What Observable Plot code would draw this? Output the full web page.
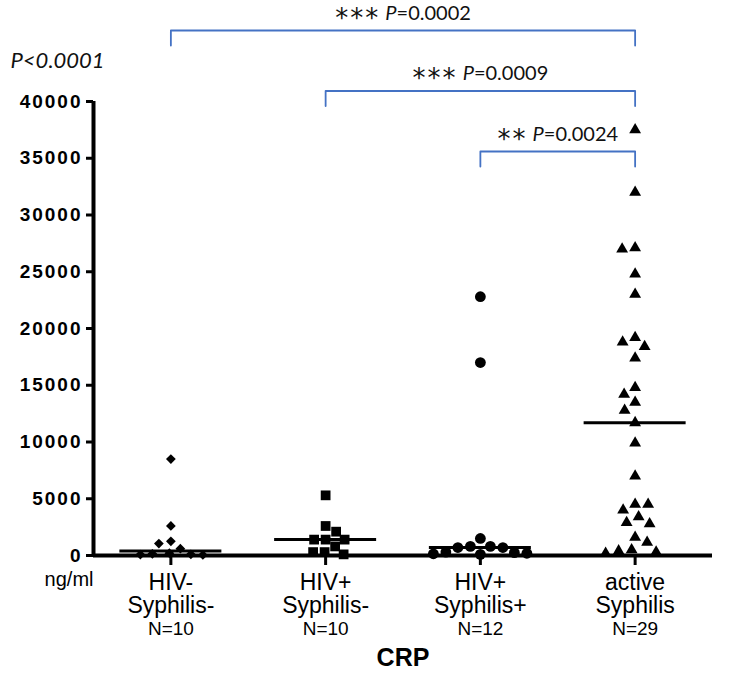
<!DOCTYPE html>
<html><head><meta charset="utf-8">
<script src="https://cdn.jsdelivr.net/npm/d3@7"></script>
<script src="https://cdn.jsdelivr.net/npm/@observablehq/plot@0.6"></script>
<style>
html,body{margin:0;padding:0;background:#fff;overflow:hidden}
g[aria-label="y-axis tick label"] text{letter-spacing:2px}
</style></head><body><div id="chart"></div>
<script>
// ---------- data ----------
const groupLabels = ["HIV-\nSyphilis-", "HIV+\nSyphilis-", "HIV+\nSyphilis+", "active\nSyphilis"];
const hivNegSyphNeg = [8500, 2600, 1250, 1050, 600, 200, 150, 100, 80, 50];
const hivPosSyphNeg = [5300, 2600, 2100, 1400, 1400, 1400, 800, 300, 300, 100];
const hivPosSyphPos = [22800, 17000, 1500, 800, 800, 700, 700, 300, 250, 200, 150, 100];
const activeSyphilis = [37500, 32000, 27100, 27000, 24800, 23000, 19200, 18800, 18400, 17400,
  14800, 14200, 13500, 12800, 11700, 9900, 7000, 4500, 4500, 4000, 3400, 2900, 2800, 1600,
  1150, 500, 400, 300, 200];
const yTicks = [0, 5000, 10000, 15000, 20000, 25000, 30000, 35000, 40000];
const comparisonFrom = [0, 1, 2];
const comparisonTo = [3, 3, 3];
const comparisonStars = ["***", "***", "**"];
const comparisonP = ["0.0002", "0.0009", "0.0024"];
const overallP = "P<0.0001";
const unitLabel = "ng/ml";
const axisTitle = "CRP";

// ---------- layout / style ----------
const W = 735, H = 692, mL = 93, mR = 23, mT = 101, mB = 137;
const plotW = W - mL - mR, plotH = H - mT - mB;
const xDomain = [-0.5, groupLabels.length - 0.5];
const yDomain = [0, d3.max(yTicks)];
const pxPerX = plotW / (xDomain[1] - xDomain[0]);
const pxPerY = plotH / (yDomain[1] - yDomain[0]);
const symbols = ["diamond2", "square", "circle", "triangle"];
const symR = [4.4, 5.5, 5.4, 4.4];
const collideR = [5.2, 5, 5.5, 5.7];
const pad = 1.5;
const medianHalfPx = 51;
const bracketColor = "#4472C4";
const bracketTopPx = 30, bracketStepPx = 60.5, bracketLegPx = 15;
const sans = "'Liberation Sans', Arial, Helvetica, sans-serif";
const calibriLike = "Lato, 'Open Sans', 'Liberation Sans', sans-serif";

const groups = [hivNegSyphNeg, hivPosSyphNeg, hivPosSyphPos, activeSyphilis]
  .map((values, i) => ({i, label: groupLabels[i], values}));

// deterministic beeswarm (pixel space) -> offsets in x units
function swarm(values, r) {
  const placed = [];
  return values.map((v, k) => {
    const y = v * pxPerY;
    let best = 0;
    outer: for (let o = 0; o < 200; o += 0.5) {
      const cands = o === 0 ? [0] : (k % 2 ? [-o, o] : [o, -o]);
      for (const c of cands) {
        if (placed.every(p => Math.hypot(p.x - c, p.y - y) >= 2 * r + pad)) { best = c; break outer; }
      }
    }
    placed.push({x: best, y});
    return best;
  });
}

const points = groups.flatMap(g => {
  const offs = swarm(g.values, collideR[g.i]);
  return g.values.map((v, k) => ({i: g.i, v, x: g.i + offs[k] / pxPerX}));
});

const comparisons = comparisonFrom.map((f, k) => ({
  k, from: f, to: comparisonTo[k], stars: comparisonStars[k], p: comparisonP[k]
}));
const pxToY = px => yDomain[1] + (mT - px) / pxPerY;
const levelPx = c => bracketTopPx + c.k * bracketStepPx;
const bracketPts = comparisons.flatMap(c => {
  const top = pxToY(levelPx(c)), bot = pxToY(levelPx(c) + bracketLegPx);
  return [
    {k: c.k, x: c.from, y: bot}, {k: c.k, x: c.from, y: top},
    {k: c.k, x: c.to, y: top}, {k: c.k, x: c.to, y: bot}
  ];
});

const dotMarks = groups.map(g => Plot.dot(points.filter(d => d.i === g.i), {
  x: "x", y: "v", symbol: symbols[g.i], r: symR[g.i], fill: "black", stroke: "none"
}));

const svg = Plot.plot({
  width: W, height: H,
  marginLeft: mL, marginRight: mR, marginTop: mT, marginBottom: mB,
  style: {fontFamily: sans, background: "white", overflow: "visible"},
  x: {domain: xDomain},
  y: {domain: yDomain},
  marks: [
    ...dotMarks,
    Plot.ruleY(groups, {
      y: d => d3.median(d.values),
      x1: d => d.i - medianHalfPx / pxPerX, x2: d => d.i + medianHalfPx / pxPerX,
      stroke: "black", strokeWidth: 3
    }),
    Plot.axisY({ticks: yTicks, tickSize: 7, tickPadding: 4, tickFormat: d3.format("d"),
      strokeWidth: 3, fontSize: 19, fontWeight: "bold", fontFamily: sans, label: null, fill: "black"}),
    Plot.axisX({ticks: d3.range(groups.length), tickSize: 10, tickFormat: () => "",
      strokeWidth: 3, label: null}),
    Plot.ruleY([0], {strokeWidth: 4, stroke: "black"}),
    Plot.ruleX([xDomain[0]], {y1: yDomain[0], y2: yDomain[1], strokeWidth: 4, stroke: "black"}),
    Plot.text(groups, {x: "i", y: 0, text: "label", dy: 38.5, lineHeight: 1.03,
      fontSize: 23, fontFamily: sans, fill: "black"}),
    Plot.text(groups, {x: "i", y: 0, text: d => `N=${d.values.length}`, dy: 73,
      fontSize: 19, fontFamily: sans, fill: "black"}),
    Plot.text([unitLabel], {frameAnchor: "bottom-left", dy: 30, dx: 0, textAnchor: "end",
      fontSize: 20, fontFamily: sans, fill: "black"}),
    Plot.text([axisTitle], {frameAnchor: "bottom", dy: 110, fontSize: 25, fontWeight: "bold",
      fontFamily: sans, fill: "black"}),
    Plot.text([overallP], {frameAnchor: "top-left", dx: -83, dy: -49, textAnchor: "start",
      fontStyle: "italic", fontSize: 22, fontFamily: calibriLike, fill: "#111"}),
    Plot.line(bracketPts, {x: "x", y: "y", z: "k", stroke: bracketColor, strokeWidth: 1.8}),
    Plot.text(comparisons, {
      x: d => (d.from + d.to) / 2, y: d => pxToY(levelPx(d)), dy: -17,
      text: d => `${d.stars} P=${d.p}`, fontSize: 20, fontFamily: calibriLike,
      fill: "#111"
    })
  ]
});

// style the p-value labels: large asterisks, italic P, regular rest
d3.select(svg).selectAll("text").each(function () {
  const t = this.textContent;
  if (!/^\*+ P=/.test(t)) return;
  const idx = t.indexOf(" ");
  const stars = t.slice(0, idx), rest = t.slice(idx + 1);
  const sel = d3.select(this);
  sel.text(null);
  sel.append("tspan").attr("font-size", 26).attr("dy", 7).attr("letter-spacing", 2)
    .attr("font-family", "'DejaVu Sans', sans-serif").text(stars);
  sel.append("tspan").attr("dy", -7).text(" ");
  sel.append("tspan").attr("font-style", "italic").text(rest[0]);
  sel.append("tspan").text(rest.slice(1));
});

document.getElementById("chart").appendChild(svg);
</script></body></html>
